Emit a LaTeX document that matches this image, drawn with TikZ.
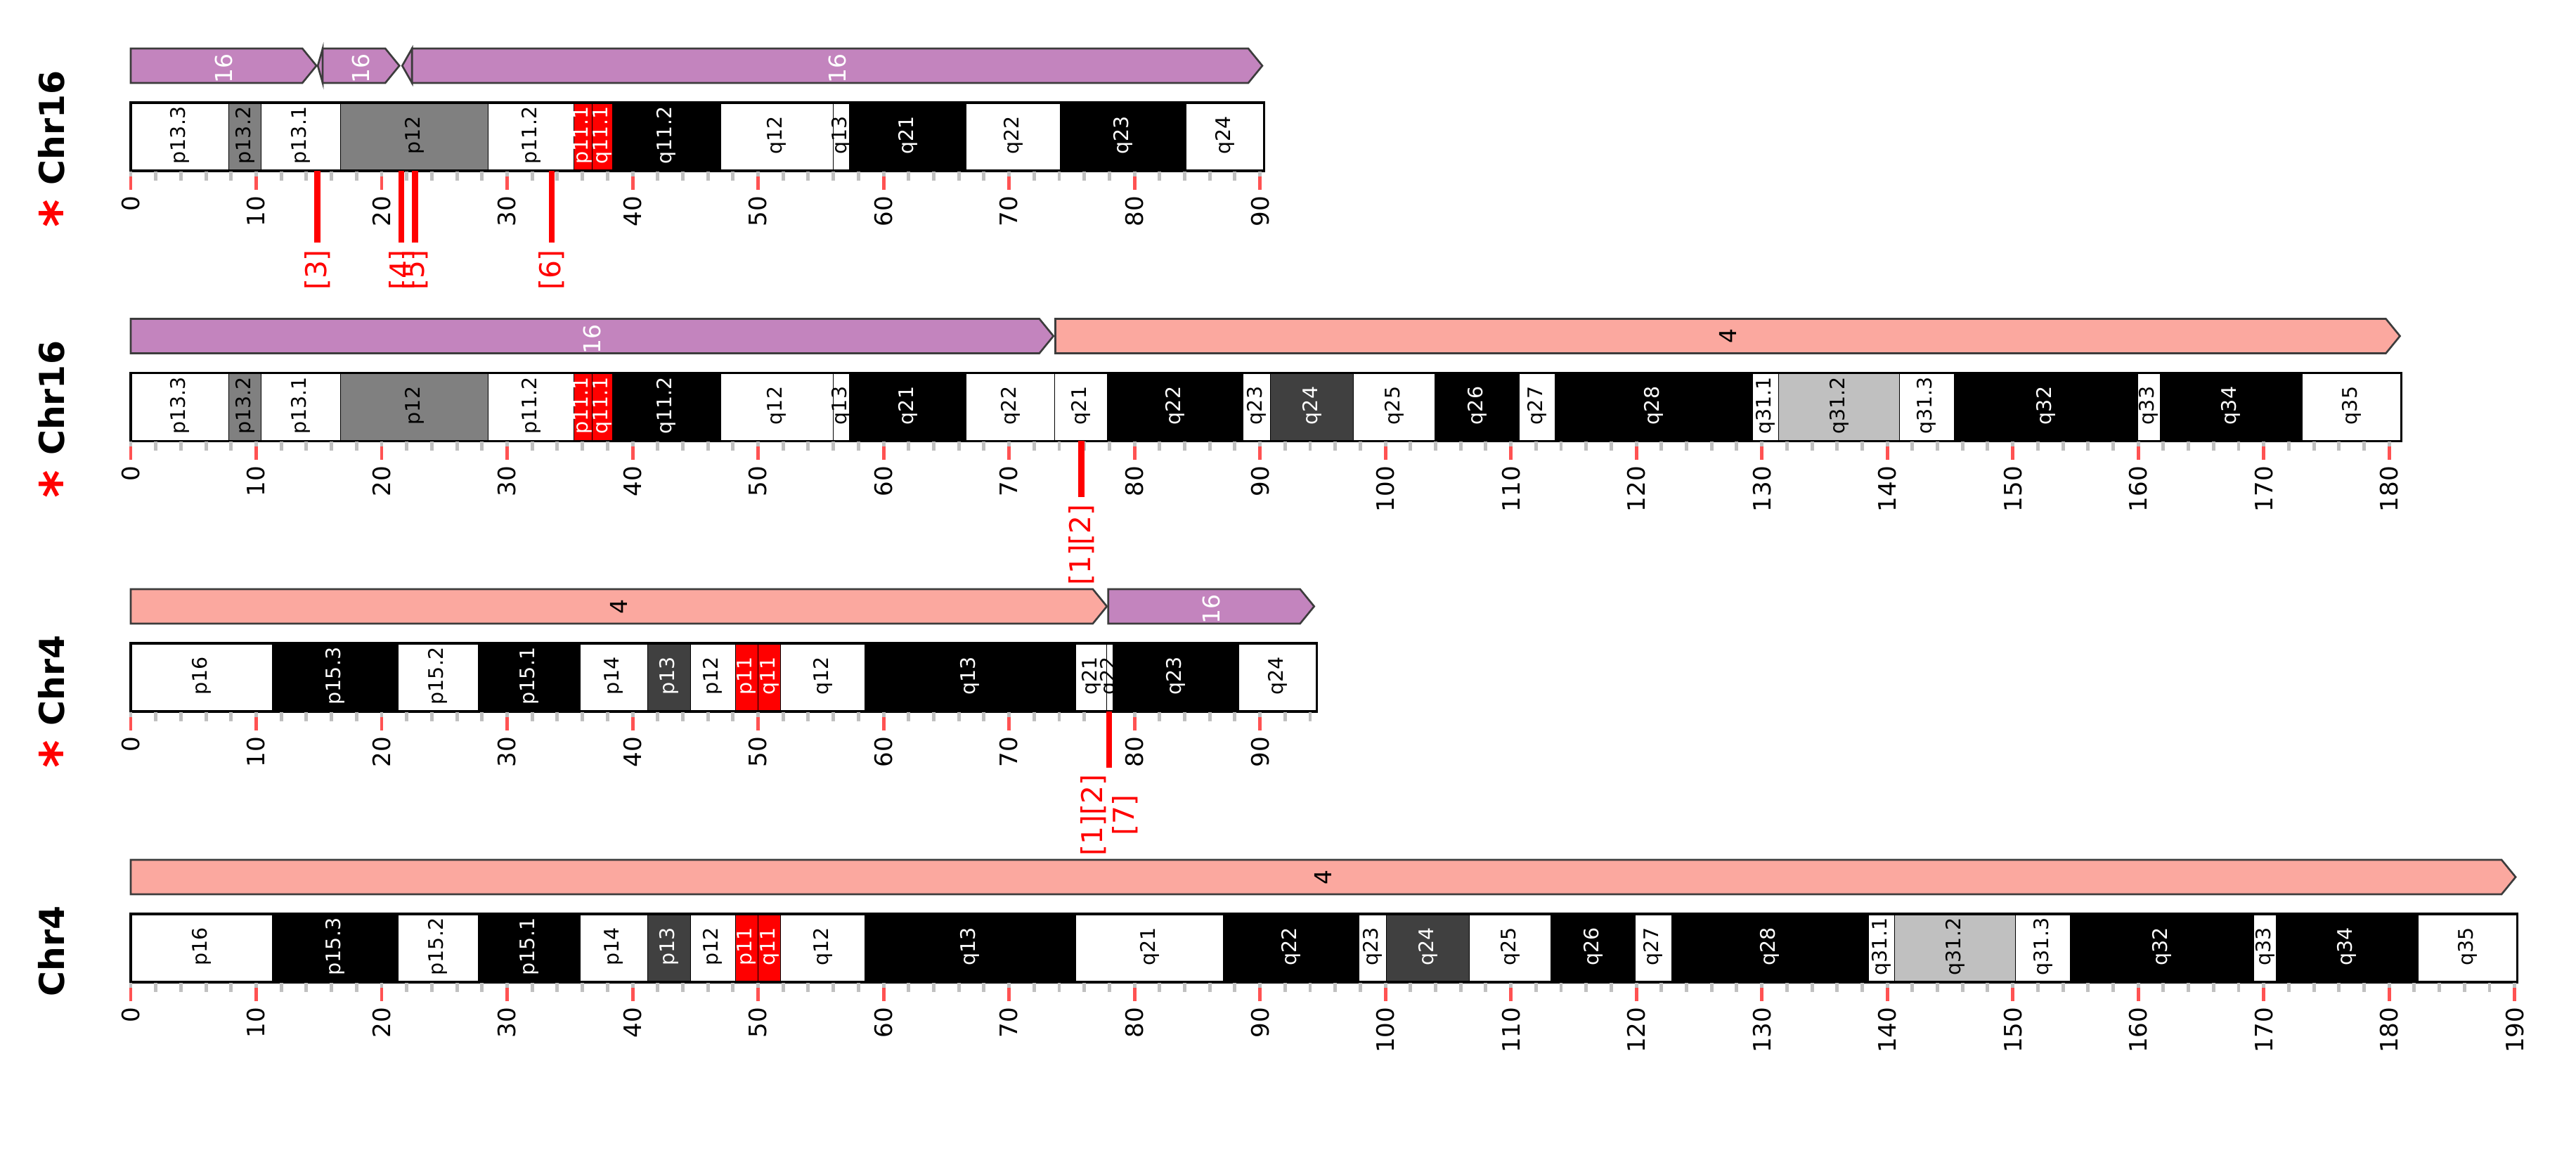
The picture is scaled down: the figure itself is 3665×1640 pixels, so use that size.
\documentclass[tikz,border=0pt]{standalone}
\usepackage{fontspec}
\setmainfont{DejaVu Sans}

\definecolor{chrsixteen}{HTML}{C384BE}
\definecolor{chrfour}{HTML}{FBA89F}
\definecolor{gposfifty}{HTML}{808080}
\definecolor{gposseventyfive}{HTML}{404040}
\definecolor{gpostwentyfive}{HTML}{C0C0C0}
\definecolor{tickgray}{HTML}{C0C0C0}
\definecolor{tickred}{HTML}{FF5252}
\definecolor{edgegray}{HTML}{3C3C3C}

\tikzset{
    band/.style={draw=black, line width=0.3pt},
    bandlabel/.style={rotate=90, inner sep=0pt, font=\fontsize{8.1}{9}\selectfont},
    chrbox/.style={draw=black, line width=0.9pt},
    segment/.style={draw=edgegray, line width=0.75pt},
    seglabel/.style={rotate=90, inner sep=0pt, font=\fontsize{9.4}{10}\selectfont},
    minortick/.style={draw=tickgray, line width=1.4pt},
    majortick/.style={draw=tickred, line width=1.4pt},
    ticklabel/.style={rotate=90, anchor=east, inner sep=0pt,
                      font=\fontsize{9.7}{10}\selectfont},
    marker/.style={draw=red, line width=2.4pt, shorten >=2.6pt},
    markerlabel/.style={rotate=90, inner sep=0pt, text=red, align=center,
                        font=\fontsize{11.6}{12.7}\selectfont},
    chrlabel/.style={rotate=90, anchor=west, inner sep=0pt,
                     font=\fontsize{13.9}{15}\selectfont\bfseries},
    chrstar/.style={rotate=90, inner sep=0pt, text=red,
                    font=\fontsize{21.5}{22}\selectfont\bfseries},
}

% bands: start/end/fill/text colour/name, in Mb
\newcommand\sixteenhead{0/7.8/white/black/p13.3, 7.8/10.4/gposfifty/black/p13.2,
    10.4/16.7/white/black/p13.1, 16.7/28.5/gposfifty/black/p12,
    28.5/35.3/white/black/p11.2, 35.3/36.8/red/white/p11.1,
    36.8/38.4/red/white/q11.1, 38.4/47.0/black/white/q11.2,
    47.0/56.0/white/black/q12, 56.0/57.3/white/black/q13,
    57.3/66.6/black/white/q21}
\newcommand\fourhead{0/11.3/white/black/p16, 11.3/21.3/black/white/p15.3,
    21.3/27.7/white/black/p15.2, 27.7/35.8/black/white/p15.1,
    35.8/41.2/white/black/p14, 41.2/44.6/gposseventyfive/white/p13,
    44.6/48.2/white/black/p12, 48.2/50.0/red/white/p11,
    50.0/51.8/red/white/q11, 51.8/58.5/white/black/q12,
    58.5/75.3/black/white/q13}
\newcommand\fourtail{87.1/97.9/black/white/q22, 97.9/100.1/white/black/q23,
    100.1/106.7/gposseventyfive/white/q24, 106.7/113.2/white/black/q25,
    113.2/119.9/black/white/q26, 119.9/122.8/white/black/q27,
    122.8/138.5/black/white/q28, 138.5/140.6/white/black/q31.1,
    140.6/150.2/gpostwentyfive/black/q31.2, 150.2/154.6/white/black/q31.3,
    154.6/169.2/black/white/q32, 169.2/171.0/white/black/q33,
    171.0/182.3/black/white/q34, 182.3/190.21/white/black/q35}

\newcommand\chrbands[3]{% row, shift, list
    \edef\bandlist{#3}%
    \foreach \a/\b/\fc/\tc/\lab [count=\i] in \bandlist {
        \draw[band, fill=\fc] (#2+\a,0) rectangle (#2+\b,97);
        \node[bandlabel, text=\tc] (#1b\i) at ({#2+(\a+\b)/2},46.5) {\lab};
    }}
\newcommand\chrsegment[3]{% start, end, fill
    \draw[segment, fill=#3] (#1,-77) -- (#2-1.12,-77) -- (#2,-52.5)
        -- (#2-1.12,-28) -- (#1,-28) -- cycle;}
\newcommand\ruler[3]{% row, last minor, last major
    \foreach \t in {0,2,...,#2}
        \draw[minortick] (\t,98) -- (\t,111);
    \foreach \t in {0,10,...,#3} {
        \draw[majortick] (\t,105) -- (\t,124);
        \node[ticklabel] (#1t\t) at (\t,132) {\t};
    }}

\begin{document}
\begin{tikzpicture}[x=0.01cm, y=-0.01cm]
    \path[use as bounding box] (0,0) rectangle (3665,1640);

    % Chr16
    \begin{scope}[shift={(186,146)}, x=0.1784cm]
        \chrsegment{0}{14.8}{chrsixteen}
        \draw[segment, fill=chrsixteen] (15.3,-77) -- (14.91,-52.5) -- (15.3,-28) -- cycle;
        \chrsegment{15.3}{21.41}{chrsixteen}
        \draw[segment, fill=chrsixteen] (22.42,-77) -- (21.64,-52.5) -- (22.42,-28) -- cycle;
        \chrsegment{22.42}{90.19}{chrsixteen}
        \node[seglabel, text=white] (sa1) at (7.4,-48.5) {16};
        \node[seglabel, text=white] (sa2) at (18.36,-48.5) {16};
        \node[seglabel, text=white] (sa3) at (56.3,-48.5) {16};

        \chrbands{ra}{0}{\sixteenhead, 66.6/74.1/white/black/q22,
            74.1/84.1/black/white/q23, 84.1/90.34/white/black/q24}
        \draw[chrbox] (0,0) rectangle (90.34,97);
        \ruler{ra}{90}{90}

        \node[chrlabel] (namea) at (-6.33,118) {Chr16};
        \node[chrstar] (stara) at (-5.75,158) {*};

        \foreach \m/\x in {3/14.88, 4/21.58, 5/22.67, 6/33.54} {
            \coordinate (pa\m) at (\x,97);
            \node[markerlabel] (la\m) at (\x,238) {[\m]};
            \draw[marker] (pa\m) -- (la\m.east);
        }
    \end{scope}

    % der Chr16
    \begin{scope}[shift={(186,530.5)}, x=0.1784cm]
        \chrsegment{0}{73.54}{chrsixteen}
        \chrsegment{73.69}{180.86}{chrfour}
        \node[seglabel, text=white] (sb1) at (36.77,-48.5) {16};
        \node[seglabel] (sb2) at (127.3,-52.5) {4};

        \chrbands{rb}{0}{\sixteenhead, 66.6/73.66/white/black/q22}
        \chrbands{rbt}{-9.25}{82.91/87.1/white/black/q21, \fourtail}
        \draw[chrbox] (0,0) rectangle (180.96,97);
        \ruler{rb}{180}{180}

        \node[chrlabel] (nameb) at (-6.33,118) {Chr16};
        \node[chrstar] (starb) at (-5.75,158) {*};

        \coordinate (pb) at (75.76,97);
        \node[markerlabel] (lb) at (75.76,244.5) {[1][2]};
        \draw[marker] (pb) -- (lb.east);
    \end{scope}

    % der Chr4
    \begin{scope}[shift={(186,915)}, x=0.1784cm]
        \chrsegment{0}{77.8}{chrfour}
        \chrsegment{77.91}{94.32}{chrsixteen}
        \node[seglabel] (sc1) at (38.9,-52.5) {4};
        \node[seglabel, text=white] (sc2) at (86.1,-48.5) {16};

        \chrbands{rc}{0}{\fourhead, 75.3/77.8/white/black/q21}
        \chrbands{rct}{4.2}{73.6/74.1/white/black/q22,
            74.1/84.1/black/white/q23, 84.1/90.34/white/black/q24}
        \draw[chrbox] (0,0) rectangle (94.54,97);
        \ruler{rc}{94}{90}

        \node[chrlabel] (namec) at (-6.33,118) {Chr4};
        \node[chrstar] (starc) at (-5.75,158) {*};

        \coordinate (pc) at (77.98,97);
        \node[markerlabel] (lc) at (77.98,244.5) {[1][2]\\{}[7]};
        \draw[marker] (pc) -- (lc.east);
    \end{scope}

    % Chr4
    \begin{scope}[shift={(186,1300)}, x=0.1784cm]
        \chrsegment{0}{190.08}{chrfour}
        \node[seglabel] (sd1) at (95.04,-52.5) {4};

        \chrbands{rd}{0}{\fourhead, 75.3/87.1/white/black/q21, \fourtail}
        \draw[chrbox] (0,0) rectangle (190.21,97);
        \ruler{rd}{190}{190}

        \node[chrlabel] (named) at (-6.33,118) {Chr4};
    \end{scope}
\end{tikzpicture}
\end{document}
